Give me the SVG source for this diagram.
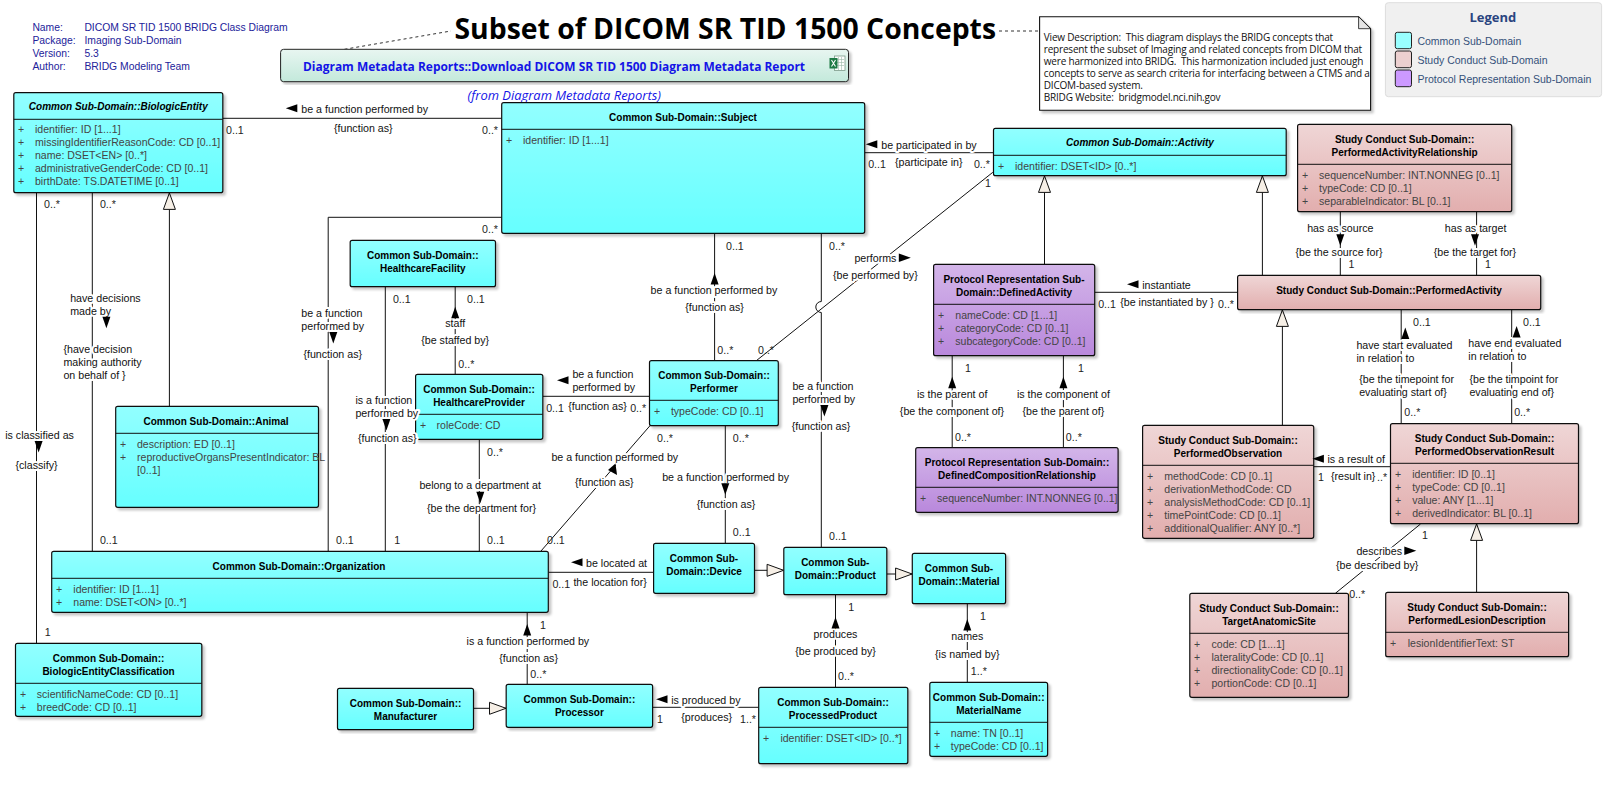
<svg xmlns="http://www.w3.org/2000/svg" width="1612" height="793" viewBox="0 0 1612 793">
<style>
text{font-family:"Liberation Sans",Arial,sans-serif;font-size:10.67px;dominant-baseline:central;white-space:pre;fill:#111}
.t{font-size:10px;font-weight:bold;text-anchor:middle;fill:#000}
.ti{font-size:10px;font-weight:bold;font-style:italic;text-anchor:middle;fill:#000}
.a{fill:#444;font-size:10.55px}
.l{paint-order:stroke;stroke:#fff;stroke-width:4px;stroke-linejoin:round}
.lm{text-anchor:middle}
.m{fill:#222}
.h{fill:#22229a;font-size:10.35px}
.o{font-family:"Open Sans",sans-serif}
.nt{font-family:"Open Sans",sans-serif;font-size:10px;letter-spacing:-.2px}
.n{stroke:#111;stroke-width:1.2;filter:url(#sh)}
.c{fill:url(#gc)}.r{fill:url(#gr)}.v{fill:url(#gv)}
.d{stroke:#111;stroke-width:1;fill:none}
.k{stroke:#111;stroke-width:1;fill:none;stroke-linecap:butt}
.g{marker-end:url(#tri)}
.da{stroke:#333;stroke-width:1;stroke-dasharray:3 3;fill:none}
.lg{fill:#34507a;font-size:10.5px}
</style>
<defs>
<linearGradient id="gc" x1="0" y1="0" x2="0" y2="1"><stop offset="0" stop-color="#92ffff"/><stop offset="1" stop-color="#66ffff"/></linearGradient>
<linearGradient id="gr" x1="0" y1="0" x2="0" y2="1"><stop offset="0" stop-color="#efd6d6"/><stop offset="1" stop-color="#e2aeae"/></linearGradient>
<linearGradient id="gv" x1="0" y1="0" x2="0" y2="1"><stop offset="0" stop-color="#d3b5e9"/><stop offset="1" stop-color="#b988dc"/></linearGradient>
<linearGradient id="gm" x1="0" y1="0" x2="0" y2="1"><stop offset="0" stop-color="#e8f6f1"/><stop offset="1" stop-color="#c3e9db"/></linearGradient>
<filter id="sh" x="-5%" y="-5%" width="112%" height="115%"><feDropShadow dx="2.5" dy="2.5" stdDeviation="1" flood-color="#000" flood-opacity=".22"/></filter>
<marker id="tri" markerUnits="userSpaceOnUse" markerWidth="19" markerHeight="15" viewBox="0 0 19 15" refX="17.5" refY="7.5" orient="auto"><path d="M1,1.5 L17.5,7.5 L1,13.5 Z" fill="#f6efe6" stroke="#111" stroke-width="1"/></marker>
<path id="aL" d="M0,0 L11.5,-4 L11.5,4 Z" fill="#000"/>
<path id="aU" d="M0,0 L-4,11.5 L4,11.5 Z" fill="#000"/>
<path id="aD" d="M0,11.5 L-4,0 L4,0 Z" fill="#000"/>
</defs>
<rect width="1612" height="793" fill="#fff"/>

<g id="connectors">
<path class="k" d="M222.8,118.3H501.7"/>
<path class="k" d="M501.7,217.3H328.2V551.3"/>
<path class="k" d="M714.6,233.3V360.7"/>
<path class="k" d="M821.3,233.3V301.5A5.5,5.5 0 0 0 821.3,312.5V547.3"/>
<path class="k" d="M864.7,152.7H993.5"/>
<path class="k" d="M992.8,172.3L756.3,360.7"/>
<path class="k" d="M36.5,192.7V643.3"/>
<path class="k" d="M92.3,192.7V551.3"/>
<path class="k g" d="M169.4,406.3V192.9"/>
<path class="k" d="M385.3,286.7V551.3"/>
<path class="k" d="M455.2,286.7V374.3"/>
<path class="k" d="M542.8,396.3H649.5"/>
<path class="k" d="M479.3,439.3V551.3"/>
<path class="k" d="M650,425.7L541,551"/>
<path class="k" d="M725.3,425.7V543.3"/>
<path class="k" d="M548.3,572.3H653.6"/>
<path class="k g" d="M754.5,570.3H783.6"/>
<path class="k g" d="M886.8,574H912.1"/>
<path class="k" d="M835.5,594.7V687.3"/>
<path class="k" d="M967.3,603.7V682.3"/>
<path class="k" d="M652.6,707.3H758.7"/>
<path class="k" d="M527.2,612.3V684.3"/>
<path class="k g" d="M473.5,708.3H506"/>
<path class="k g" d="M1044.5,264.3V175.9"/>
<path class="k g" d="M1262.4,275.3V175.9"/>
<path class="k" d="M952.2,355.7V447.7"/>
<path class="k" d="M1063.4,355.7V447.7"/>
<path class="k" d="M1340.3,211.7V275.3"/>
<path class="k" d="M1476.6,211.7V275.3"/>
<path class="k" d="M1094.7,292.3H1237.6"/>
<path class="k g" d="M1282.4,425.3V309.9"/>
<path class="k" d="M1401.2,309.7V423.7"/>
<path class="k" d="M1511.7,309.7V423.7"/>
<path class="k" d="M1313.7,466.7H1390.5"/>
<path class="k" d="M1420.5,524L1335.4,593.3"/>
<path class="k g" d="M1476.6,592.3V523.9"/>
<path class="da" d="M344.4,49.3L451,31"/>
<path class="da" d="M999,31H1039.6"/>
</g>

<g id="header">
<text class="h" x="32.4" y="27.7">Name:</text><text class="h" x="84.4" y="27.7">DICOM SR TID 1500 BRIDG Class Diagram</text>
<text class="h" x="32.4" y="40.7">Package:</text><text class="h" x="84.4" y="40.7">Imaging Sub-Domain</text>
<text class="h" x="32.4" y="53.7">Version:</text><text class="h" x="84.4" y="53.7">5.3</text>
<text class="h" x="32.4" y="66.7">Author:</text><text class="h" x="84.4" y="66.7">BRIDG Modeling Team</text>
</g>
<g id="title"><text class="o" x="454.5" y="28" style="font-size:28px;font-weight:bold;fill:#000" textLength="541.5" lengthAdjust="spacingAndGlyphs">Subset of DICOM SR TID 1500 Concepts</text></g>

<g id="metadata-report">
<rect x="280.6" y="49.3" width="567.9" height="32.4" rx="3" fill="url(#gm)" stroke="#222" stroke-width="1" filter="url(#sh)"/>
<text class="o" x="303" y="66" style="font-size:12.5px;font-weight:bold;fill:#1414e6" textLength="502" lengthAdjust="spacingAndGlyphs">Diagram Metadata Reports::Download DICOM SR TID 1500 Diagram Metadata Report</text>
<rect x="834.5" y="56" width="10.5" height="14.5" fill="#fff" stroke="#7a9a88" stroke-width=".8"/>
<path d="M836,59.5H844M836,62.5H844M836,65.5H844M838.5,57V70M841.5,57V70" stroke="#9bb8a8" stroke-width=".6" fill="none"/>
<rect x="829.5" y="58" width="8" height="10.5" fill="#1e7a45"/>
<path d="M831.5,60L835.5,66.5M835.5,60L831.5,66.5" stroke="#fff" stroke-width="1.1"/>
<text class="o" x="467.6" y="95.7" style="font-size:12.5px;font-style:italic;fill:#1414e6" textLength="193.4" lengthAdjust="spacingAndGlyphs">(from Diagram Metadata Reports)</text>
</g>

<g id="note">
<path d="M1039.6,16.7H1358.6L1370.6,28.7V110.3H1039.6Z" fill="#fff" stroke="#111" stroke-width="1.1" filter="url(#sh)"/>
<path d="M1358.6,16.7V28.7H1370.6Z" fill="#e4e4e4" stroke="#111" stroke-width=".8"/>
<text class="nt" x="1043.8" y="36.7">View Description:  This diagram displays the BRIDG concepts that</text>
<text class="nt" x="1043.8" y="48.7">represent the subset of Imaging and related concepts from DICOM that</text>
<text class="nt" x="1043.8" y="60.7">were harmonized into BRIDG.  This harmonization included just enough</text>
<text class="nt" x="1043.8" y="72.7">concepts to serve as search criteria for interfacing between a CTMS and a</text>
<text class="nt" x="1043.8" y="84.7">DICOM-based system.</text>
<text class="nt" x="1043.8" y="96.7">BRIDG Website:  bridgmodel.nci.nih.gov</text>
</g>

<g id="legend">
<rect x="1385.4" y="2.7" width="216.2" height="94" rx="3" fill="#f0f0f0" stroke="#ddd"/>
<text class="o" x="1492.8" y="17.3" style="font-size:13px;font-weight:bold;text-anchor:middle;fill:#2a4480">Legend</text>
<rect x="1395.3" y="32.3" width="16.2" height="16.4" rx="2" fill="#99ffff" stroke="#222"/>
<rect x="1395.3" y="51" width="16.2" height="16.7" rx="2" fill="#ecd0d0" stroke="#222"/>
<rect x="1395.3" y="70" width="16.2" height="16.7" rx="2" fill="#cc99ff" stroke="#222"/>
<text class="lg" x="1417.4" y="40.7">Common Sub-Domain</text>
<text class="lg" x="1417.4" y="59.7">Study Conduct Sub-Domain</text>
<text class="lg" x="1417.4" y="78.7">Protocol Representation Sub-Domain</text>
</g>

<g id="BiologicEntity">
<rect class="n c" x="13.8" y="92.7" width="209" height="100" rx="2"/><path class="d" d="M13.8,119.3H222.8"/>
<text class="ti" x="118.3" y="106.7">Common Sub-Domain::BiologicEntity</text>
<text class="a" x="18" y="129.3">+</text><text class="a" x="35" y="129.3">identifier: ID [1...1]</text>
<text class="a" x="18" y="142.3">+</text><text class="a" x="35" y="142.3">missingIdentifierReasonCode: CD [0..1]</text>
<text class="a" x="18" y="155.3">+</text><text class="a" x="35" y="155.3">name: DSET&lt;EN&gt; [0..*]</text>
<text class="a" x="18" y="168.3">+</text><text class="a" x="35" y="168.3">administrativeGenderCode: CD [0..1]</text>
<text class="a" x="18" y="181.3">+</text><text class="a" x="35" y="181.3">birthDate: TS.DATETIME [0..1]</text>
</g>
<g id="Subject">
<rect class="n c" x="501.7" y="102.7" width="363" height="130.6" rx="2"/><path class="d" d="M501.7,129.3H864.7"/>
<text class="t" x="683" y="117.7">Common Sub-Domain::Subject</text>
<text class="a" x="506" y="139.7">+</text><text class="a" x="523" y="139.7">identifier: ID [1...1]</text>
</g>
<g id="Activity">
<rect class="n c" x="993.5" y="128.3" width="292.7" height="47.4" rx="2"/><path class="d" d="M993.5,155.3H1286.2"/>
<text class="ti" x="1140" y="142.7">Common Sub-Domain::Activity</text>
<text class="a" x="998" y="165.7">+</text><text class="a" x="1015" y="165.7">identifier: DSET&lt;ID&gt; [0..*]</text>
</g>
<g id="PerformedActivityRelationship">
<rect class="n r" x="1297.6" y="124.3" width="214.1" height="87.4" rx="2"/><path class="d" d="M1297.6,164.3H1511.7"/>
<text class="t" x="1404.6" y="139.7">Study Conduct Sub-Domain::</text><text class="t" x="1404.6" y="152.7">PerformedActivityRelationship</text>
<text class="a" x="1302" y="174.7">+</text><text class="a" x="1319" y="174.7">sequenceNumber: INT.NONNEG [0..1]</text>
<text class="a" x="1302" y="187.7">+</text><text class="a" x="1319" y="187.7">typeCode: CD [0..1]</text>
<text class="a" x="1302" y="200.7">+</text><text class="a" x="1319" y="200.7">separableIndicator: BL [0..1]</text>
</g>
<g id="HealthcareFacility">
<rect class="n c" x="350.2" y="240.3" width="145.3" height="46.4" rx="2"/>
<text class="t" x="422.8" y="255.7">Common Sub-Domain::</text><text class="t" x="422.8" y="268.7">HealthcareFacility</text>
</g>
<g id="Animal">
<rect class="n c" x="115.7" y="406.3" width="202.8" height="101" rx="2"/><path class="d" d="M115.7,433.3H318.5"/>
<text class="t" x="216" y="421.7">Common Sub-Domain::Animal</text>
<text class="a" x="120" y="443.7">+</text><text class="a" x="137" y="443.7">description: ED [0..1]</text>
<text class="a" x="120" y="456.7">+</text><text class="a" x="137" y="456.7">reproductiveOrgansPresentIndicator: BL</text>
<text class="a" x="137" y="469.7">[0..1]</text>
</g>
<g id="HealthcareProvider">
<rect class="n c" x="415.6" y="374.3" width="127.2" height="65" rx="2"/><path class="d" d="M415.6,414.3H542.8"/>
<text class="t" x="479" y="389.7">Common Sub-Domain::</text><text class="t" x="479" y="402.7">HealthcareProvider</text>
<text class="a" x="420" y="424.7">+</text><text class="a" x="436.6" y="424.7">roleCode: CD</text>
</g>
<g id="Performer">
<rect class="n c" x="649.5" y="360.7" width="128.8" height="65" rx="2"/><path class="d" d="M649.5,400.3H778.3"/>
<text class="t" x="714" y="375.7">Common Sub-Domain::</text><text class="t" x="714" y="388.7">Performer</text>
<text class="a" x="654" y="410.7">+</text><text class="a" x="670.9" y="410.7">typeCode: CD [0..1]</text>
</g>
<g id="DefinedActivity">
<rect class="n v" x="933.6" y="264.3" width="161.1" height="91.4" rx="2"/><path class="d" d="M933.6,304.3H1094.7"/>
<text class="t" x="1014" y="279.7">Protocol Representation Sub-</text><text class="t" x="1014" y="292.7">Domain::DefinedActivity</text>
<text class="a" x="938" y="314.7">+</text><text class="a" x="955.3" y="314.7">nameCode: CD [1...1]</text>
<text class="a" x="938" y="327.7">+</text><text class="a" x="955.3" y="327.7">categoryCode: CD [0..1]</text>
<text class="a" x="938" y="340.7">+</text><text class="a" x="955.3" y="340.7">subcategoryCode: CD [0..1]</text>
</g>
<g id="DefinedCompositionRelationship">
<rect class="n v" x="915.7" y="447.7" width="202.4" height="64.6" rx="2"/><path class="d" d="M915.7,487.3H1118.1"/>
<text class="t" x="1017" y="462.7">Protocol Representation Sub-Domain::</text><text class="t" x="1017" y="475.7">DefinedCompositionRelationship</text>
<text class="a" x="920" y="497.7">+</text><text class="a" x="937" y="497.7">sequenceNumber: INT.NONNEG [0..1]</text>
</g>
<g id="PerformedActivity">
<rect class="n r" x="1237.6" y="275.3" width="303.1" height="34.4" rx="2"/>
<text class="t" x="1389" y="290.7">Study Conduct Sub-Domain::PerformedActivity</text>
</g>
<g id="PerformedObservation">
<rect class="n r" x="1142.6" y="425.3" width="171.1" height="113" rx="2"/><path class="d" d="M1142.6,465.3H1313.7"/>
<text class="t" x="1228" y="440.7">Study Conduct Sub-Domain::</text><text class="t" x="1228" y="453.7">PerformedObservation</text>
<text class="a" x="1147" y="475.7">+</text><text class="a" x="1164.3" y="475.7">methodCode: CD [0..1]</text>
<text class="a" x="1147" y="488.7">+</text><text class="a" x="1164.3" y="488.7">derivationMethodCode: CD</text>
<text class="a" x="1147" y="501.7">+</text><text class="a" x="1164.3" y="501.7">analysisMethodCode: CD [0..1]</text>
<text class="a" x="1147" y="514.7">+</text><text class="a" x="1164.3" y="514.7">timePointCode: CD [0..1]</text>
<text class="a" x="1147" y="527.7">+</text><text class="a" x="1164.3" y="527.7">additionalQualifier: ANY [0..*]</text>
</g>
<g id="PerformedObservationResult">
<rect class="n r" x="1390.5" y="423.7" width="188" height="100" rx="2"/><path class="d" d="M1390.5,463.3H1578.5"/>
<text class="t" x="1484.5" y="438.7">Study Conduct Sub-Domain::</text><text class="t" x="1484.5" y="451.7">PerformedObservationResult</text>
<text class="a" x="1395" y="473.7">+</text><text class="a" x="1412.2" y="473.7">identifier: ID [0..1]</text>
<text class="a" x="1395" y="486.7">+</text><text class="a" x="1412.2" y="486.7">typeCode: CD [0..1]</text>
<text class="a" x="1395" y="499.7">+</text><text class="a" x="1412.2" y="499.7">value: ANY [1...1]</text>
<text class="a" x="1395" y="512.7">+</text><text class="a" x="1412.2" y="512.7">derivedIndicator: BL [0..1]</text>
</g>
<g id="TargetAnatomicSite">
<rect class="n r" x="1189.8" y="593.3" width="158.7" height="104" rx="2"/><path class="d" d="M1189.8,633.3H1348.5"/>
<text class="t" x="1269" y="608.7">Study Conduct Sub-Domain::</text><text class="t" x="1269" y="621.7">TargetAnatomicSite</text>
<text class="a" x="1194" y="643.7">+</text><text class="a" x="1211.5" y="643.7">code: CD [1...1]</text>
<text class="a" x="1194" y="656.7">+</text><text class="a" x="1211.5" y="656.7">lateralityCode: CD [0..1]</text>
<text class="a" x="1194" y="669.7">+</text><text class="a" x="1211.5" y="669.7">directionalityCode: CD [0..1]</text>
<text class="a" x="1194" y="682.7">+</text><text class="a" x="1211.5" y="682.7">portionCode: CD [0..1]</text>
</g>
<g id="PerformedLesionDescription">
<rect class="n r" x="1385.7" y="592.3" width="182.9" height="64.4" rx="2"/><path class="d" d="M1385.7,632.3H1568.6"/>
<text class="t" x="1477" y="607.7">Study Conduct Sub-Domain::</text><text class="t" x="1477" y="620.7">PerformedLesionDescription</text>
<text class="a" x="1390" y="642.7">+</text><text class="a" x="1407.7" y="642.7">lesionIdentifierText: ST</text>
</g>
<g id="Organization">
<rect class="n c" x="51.7" y="551.3" width="496.6" height="61" rx="2"/><path class="d" d="M51.7,578.3H548.3"/>
<text class="t" x="299" y="566.7">Common Sub-Domain::Organization</text>
<text class="a" x="56" y="588.7">+</text><text class="a" x="73.3" y="588.7">identifier: ID [1...1]</text>
<text class="a" x="56" y="601.7">+</text><text class="a" x="73.3" y="601.7">name: DSET&lt;ON&gt; [0..*]</text>
</g>
<g id="BiologicEntityClassification">
<rect class="n c" x="15.5" y="643.3" width="186.3" height="73" rx="2"/><path class="d" d="M15.5,683.3H201.8"/>
<text class="t" x="108.5" y="658.7">Common Sub-Domain::</text><text class="t" x="108.5" y="671.7">BiologicEntityClassification</text>
<text class="a" x="20" y="693.7">+</text><text class="a" x="36.8" y="693.7">scientificNameCode: CD [0..1]</text>
<text class="a" x="20" y="706.7">+</text><text class="a" x="36.8" y="706.7">breedCode: CD [0..1]</text>
</g>
<g id="Manufacturer">
<rect class="n c" x="337.5" y="688.3" width="136" height="41.4" rx="2"/>
<text class="t" x="405.5" y="703.7">Common Sub-Domain::</text><text class="t" x="405.5" y="716.7">Manufacturer</text>
</g>
<g id="Processor">
<rect class="n c" x="506.2" y="684.3" width="146.4" height="43" rx="2"/>
<text class="t" x="579.4" y="699.7">Common Sub-Domain::</text><text class="t" x="579.4" y="712.7">Processor</text>
</g>
<g id="Device">
<rect class="n c" x="653.6" y="543.3" width="100.9" height="50" rx="2"/>
<text class="t" x="704" y="558.7">Common Sub-</text><text class="t" x="704" y="571.7">Domain::Device</text>
</g>
<g id="Product">
<rect class="n c" x="783.8" y="547.3" width="103" height="47.4" rx="2"/>
<text class="t" x="835.3" y="562.7">Common Sub-</text><text class="t" x="835.3" y="575.7">Domain::Product</text>
</g>
<g id="Material">
<rect class="n c" x="912.3" y="553.3" width="93.3" height="50.4" rx="2"/>
<text class="t" x="959" y="568.7">Common Sub-</text><text class="t" x="959" y="581.7">Domain::Material</text>
</g>
<g id="ProcessedProduct">
<rect class="n c" x="758.7" y="687.3" width="149.1" height="76.4" rx="2"/><path class="d" d="M758.7,727.3H907.8"/>
<text class="t" x="833" y="702.7">Common Sub-Domain::</text><text class="t" x="833" y="715.7">ProcessedProduct</text>
<text class="a" x="763" y="737.7">+</text><text class="a" x="780.4" y="737.7">identifier: DSET&lt;ID&gt; [0..*]</text>
</g>
<g id="MaterialName">
<rect class="n c" x="929.8" y="682.3" width="117.8" height="74" rx="2"/><path class="d" d="M929.8,722.3H1047.6"/>
<text class="t" x="988.7" y="697.7">Common Sub-Domain::</text><text class="t" x="988.7" y="710.7">MaterialName</text>
<text class="a" x="934" y="732.7">+</text><text class="a" x="950.8" y="732.7">name: TN [0..1]</text>
<text class="a" x="934" y="745.7">+</text><text class="a" x="950.8" y="745.7">typeCode: CD [0..1]</text>
</g>

<g id="connector-labels">
<text class="l" x="301.3" y="108.7">be a function performed by</text><text class="l" x="334" y="127.7">{function as}</text><text class="m" x="226" y="129.7">0..1</text><text class="m" x="482" y="129.7">0..*</text>
<text class="m" x="482" y="228.7">0..*</text><text class="l" x="301.3" y="312.7">be a function</text><text class="l" x="301.3" y="325.7">performed by</text><text class="l" x="303.4" y="353.7">{function as}</text><text class="m" x="336" y="539.7">0..1</text>
<text class="m" x="726" y="245.7">0..1</text><text class="l lm" x="714" y="289.7">be a function performed by</text><text class="l lm" x="714.6" y="306.7">{function as}</text><text class="m" x="717.3" y="349.7">0..*</text>
<text class="m" x="829" y="245.7">0..*</text><text class="l" x="792.4" y="385.7">be a function</text><text class="l" x="792.4" y="398.7">performed by</text><text class="l lm" x="821" y="425.7">{function as}</text><text class="m" x="829" y="535.7">0..1</text>
<text class="l" x="881.3" y="145">be participated in by</text><text class="l" x="895" y="161.7">{participate in}</text><text class="m" x="868.2" y="163.7">0..1</text><text class="m" x="973.9" y="163.7">0..*</text>
<text class="l" x="854.4" y="257.7">performs</text><text class="l" x="833" y="274.7">{be performed by}</text><text class="m" x="985" y="183">1</text><text class="m" x="758" y="349.7">0..*</text>
<text class="m" x="44" y="204.3">0..*</text><text class="l" x="5.2" y="434.7">is classified as</text><text class="l lm" x="36.5" y="464.7">{classify}</text><text class="m" x="44.8" y="631.7">1</text>
<text class="m" x="99.9" y="204.3">0..*</text><text class="l" x="70.2" y="297.7">have decisions</text><text class="l" x="70.2" y="310.7">made by</text><text class="l" x="63.4" y="348.7">{have decision</text><text class="l" x="63.4" y="361.7">making authority</text><text class="l" x="63.4" y="374.7">on behalf of }</text><text class="m" x="99.9" y="539.7">0..1</text>
<text class="m" x="392.9" y="298.7">0..1</text><text class="l" x="355.4" y="399.7">is a function</text><text class="l" x="355.4" y="412.7">performed by</text><text class="l" x="358" y="437.7">{function as}</text><text class="m" x="394.3" y="539.7">1</text>
<text class="m" x="467" y="298.7">0..1</text><text class="l lm" x="455.2" y="322.7">staff</text><text class="l lm" x="455.2" y="339.7">{be staffed by}</text><text class="m" x="458.3" y="363.7">0..*</text>
<text class="l" x="572.4" y="373.7">be a function</text><text class="l" x="572.4" y="386.7">performed by</text><text class="m" x="546.2" y="407.7">0..1</text><text class="l" x="568.2" y="405.7">{function as}</text><text class="m" x="630.2" y="407.7">0..*</text>
<text class="m" x="487" y="451.7">0..*</text><text class="l" x="419.4" y="484.7">belong to a department at</text><text class="l" x="427" y="507.7">{be the department for}</text><text class="m" x="487" y="539.7">0..1</text>
<text class="m" x="657" y="437.7">0..*</text><text class="l" x="551.4" y="456.7">be a function performed by</text><text class="l" x="575" y="481.7">{function as}</text><text class="m" x="547" y="539.7">0..1</text>
<text class="m" x="732.8" y="437.7">0..*</text><text class="l" x="662.2" y="476.7">be a function performed by</text><text class="l lm" x="726" y="503.7">{function as}</text><text class="m" x="732.8" y="531.7">0..1</text>
<text class="l" x="586" y="562.7">be located at</text><text class="m" x="552.4" y="583.7">0..1</text><text class="l" x="573.4" y="581.7">the location for}</text>
<text class="m" x="848.2" y="606.7">1</text><text class="l lm" x="835.5" y="633.7">produces</text><text class="l lm" x="835.5" y="650.7">{be produced by}</text><text class="m" x="838" y="676.3">0..*</text>
<text class="m" x="980" y="615.7">1</text><text class="l lm" x="967.3" y="635.7">names</text><text class="l lm" x="967.3" y="653.7">{is named by}</text><text class="m" x="970.8" y="671.3">1..*</text>
<text class="l" x="671.2" y="699.7">is produced by</text><text class="m" x="657" y="718.7">1</text><text class="l" x="681.2" y="716.7">{produces}</text><text class="m" x="740" y="718.7">1..*</text>
<text class="m" x="540" y="624.7">1</text><text class="l" x="466.6" y="640.7">is a function performed by</text><text class="l" x="499.3" y="657.7">{function as}</text><text class="m" x="530.3" y="673.7">0..*</text>
<text class="m" x="965" y="367.7">1</text><text class="l lm" x="952.2" y="393.7">is the parent of</text><text class="l lm" x="952" y="410.7">{be the component of}</text><text class="m" x="955" y="436.7">0..*</text>
<text class="m" x="1078" y="367.7">1</text><text class="l lm" x="1063.4" y="393.7">is the component of</text><text class="l lm" x="1063.4" y="410.7">{be the parent of}</text><text class="m" x="1065.8" y="436.7">0..*</text>
<text class="l lm" x="1340.3" y="227.7">has as source</text><text class="l lm" x="1339" y="251.7">{be the source for}</text><text class="m" x="1348.5" y="263.7">1</text>
<text class="l lm" x="1475.6" y="227.7">has as target</text><text class="l lm" x="1475" y="251.7">{be the target for}</text><text class="m" x="1485" y="263.7">1</text>
<text class="l" x="1142.2" y="284.7">instantiate</text><text class="m" x="1098.2" y="303.7">0..1</text><text class="l" x="1120.2" y="301.7">{be instantiated by }</text><text class="m" x="1218" y="303.7">0..*</text>
<text class="m" x="1413" y="321.7">0..1</text><text class="l" x="1356.4" y="344.7">have start evaluated</text><text class="l" x="1356.4" y="357.7">in relation to</text><text class="l" x="1359.2" y="378.7">{be the timepoint for</text><text class="l" x="1359.2" y="391.7">evaluating start of}</text><text class="m" x="1404.3" y="412.3">0..*</text>
<text class="m" x="1523" y="321.7">0..1</text><text class="l" x="1468.3" y="342.7">have end evaluated</text><text class="l" x="1468.3" y="355.7">in relation to</text><text class="l" x="1469.4" y="378.7">{be the timpoint for</text><text class="l" x="1469.4" y="391.7">evaluating end of}</text><text class="m" x="1514.2" y="412.3">0..*</text>
<text class="l" x="1327.5" y="458.7">is a result of</text><text class="m" x="1317.9" y="477.3">1</text><text class="l" x="1331" y="475.7">{result in}</text><text class="m" x="1377" y="477.3">..*</text>
<text class="m" x="1421.9" y="534.7">1</text><text class="l" x="1356.4" y="550.7">describes</text><text class="l" x="1336" y="564.7">{be described by}</text><text class="m" x="1349.2" y="593.7">0..*</text>
</g>

<g id="label-arrows">
<use href="#aL" x="285.8" y="108.3"/>
<use href="#aD" x="333.3" y="332"/>
<use href="#aU" x="714.6" y="273"/>
<use href="#aD" x="824.4" y="405"/>
<use href="#aL" x="865.8" y="144.3"/>
<polygon points="910.8,257.7 898.8,253.5 898.8,261.9" fill="#000"/>
<use href="#aD" x="38.6" y="441"/>
<use href="#aD" x="106.4" y="316.7"/>
<use href="#aD" x="386.4" y="419"/>
<use href="#aU" x="455.2" y="306.7"/>
<use href="#aL" x="557" y="380.3"/>
<use href="#aD" x="480.3" y="491.7"/>
<path d="M615.5,463.5L617,475L608,470Z" fill="#000"/>
<use href="#aD" x="725.3" y="483.3"/>
<use href="#aL" x="571" y="562.3"/>
<use href="#aU" x="835.5" y="617"/>
<use href="#aU" x="967.3" y="619"/>
<use href="#aL" x="656" y="699.3"/>
<use href="#aU" x="527.2" y="624"/>
<use href="#aU" x="952.2" y="376.7"/>
<use href="#aU" x="1063.4" y="376.7"/>
<use href="#aD" x="1340.3" y="234.3"/>
<use href="#aD" x="1475" y="234.3"/>
<use href="#aL" x="1127" y="284.3"/>
<use href="#aU" x="1405.3" y="327.5"/>
<use href="#aU" x="1516.6" y="326"/>
<use href="#aL" x="1312.4" y="458.7"/>
<polygon points="1416.3,550.7 1404.3,546.5 1404.3,554.9" fill="#000"/>
</g>
</svg>
